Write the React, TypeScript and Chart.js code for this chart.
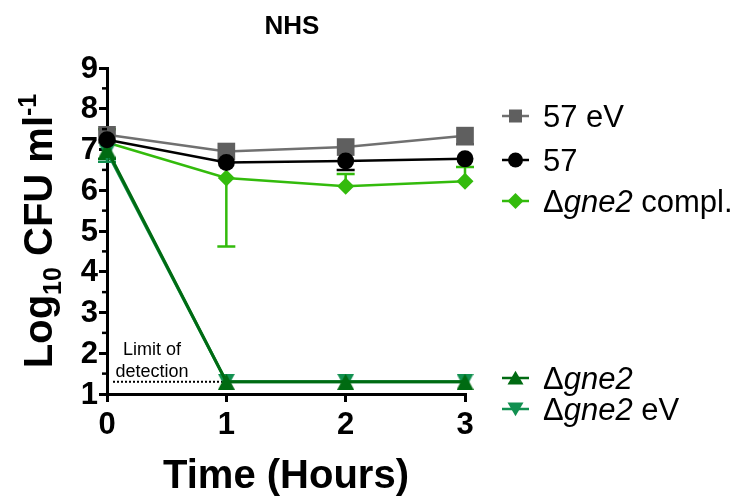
import React, { useEffect, useRef } from 'react';
import { Chart, registerables } from 'chart.js';
Chart.register(...registerables);

// ---- data ----
const timeHours = [0, 1, 2, 3];
const yTickValues = [1, 2, 3, 4, 5, 6, 7, 8, 9];
const xTickValues = [0, 1, 2, 3];
const chartTitle = 'NHS';
const xTitle = 'Time (Hours)';

const s57eV = [7.36, 6.95, 7.06, 7.34];
const s57 = [7.24, 6.68, 6.72, 6.77];
const sCompl = [7.17, 6.3, 6.1, 6.22];
const sGne2 = [7.0, 1.3, 1.3, 1.3];
const sGne2eV = [6.95, 1.3, 1.3, 1.3];

// error bar ends (null = not visible)
const e57eVLow = [null, null, null, 7.13];
const e57eVHigh = [null, null, null, null];
const e57Low = [null, null, 6.5, null];
const e57High = [null, null, null, null];
const eComplLow = [null, 4.62, null, null];
const eComplHigh = [7.5, null, 6.4, 6.57];
const eGne2Low = [6.77, null, null, null];
const eGne2High = [null, null, null, null];
const eGne2eVLow = [6.7, null, null, null];
const eGne2eVHigh = [null, null, null, null];

const limitOfDetection = 1.3;

const C_GRAY = '#5f5f5f';
const C_GRAYLINE = '#707070';
const C_BLACK = '#000000';
const C_GREEN = '#33bb0c';
const C_DKGREEN = '#006b12';
const C_TEAL = '#119050';

const FONT = '"Liberation Sans", Arial, Helvetica, sans-serif';

function triCanvas(color: string, down: boolean, w: number, h: number) {
  const c = document.createElement('canvas');
  c.width = w;
  c.height = h;
  const g = c.getContext('2d')!;
  g.fillStyle = color;
  g.beginPath();
  if (down) {
    g.moveTo(0, 0);
    g.lineTo(w, 0);
    g.lineTo(w / 2, h);
  } else {
    g.moveTo(w / 2, 0);
    g.lineTo(w, h);
    g.lineTo(0, h);
  }
  g.closePath();
  g.fill();
  return c;
}

function drawMarker(ctx: CanvasRenderingContext2D, type: string, x: number, y: number, s: number, color: string) {
  ctx.save();
  ctx.fillStyle = color;
  ctx.beginPath();
  if (type === 'square') {
    ctx.rect(x - s / 2, y - s / 2, s, s);
  } else if (type === 'circle') {
    ctx.arc(x, y, s / 2, 0, Math.PI * 2);
  } else if (type === 'diamond') {
    ctx.moveTo(x, y - s / 2);
    ctx.lineTo(x + s / 2, y);
    ctx.lineTo(x, y + s / 2);
    ctx.lineTo(x - s / 2, y);
    ctx.closePath();
  } else if (type === 'up') {
    ctx.moveTo(x, y - s * 0.45);
    ctx.lineTo(x + s / 2, y + s * 0.4);
    ctx.lineTo(x - s / 2, y + s * 0.4);
    ctx.closePath();
  } else if (type === 'down') {
    ctx.moveTo(x - s / 2, y - s * 0.4);
    ctx.lineTo(x + s / 2, y - s * 0.4);
    ctx.lineTo(x, y + s * 0.45);
    ctx.closePath();
  }
  ctx.fill();
  ctx.restore();
}

type Run = { t: string; italic?: boolean };

function drawRuns(ctx: CanvasRenderingContext2D, runs: Run[], x: number, y: number, size: number) {
  let cx = x;
  for (const r of runs) {
    ctx.font = `${r.italic ? 'italic ' : ''}${size}px ${FONT}`;
    ctx.fillText(r.t, cx, y);
    cx += ctx.measureText(r.t).width;
  }
}

const legendRows = [
  { runs: [{ t: '57 eV' }], color: C_GRAY, line: C_GRAYLINE, sym: 'square', size: 13, y: 116 },
  { runs: [{ t: '57' }], color: C_BLACK, line: C_BLACK, sym: 'circle', size: 15, y: 160 },
  { runs: [{ t: 'Δ' }, { t: 'gne2', italic: true }, { t: ' compl.' }], color: C_GREEN, line: C_GREEN, sym: 'diamond', size: 16, y: 201 },
  { runs: [{ t: 'Δ' }, { t: 'gne2', italic: true }], color: C_DKGREEN, line: C_DKGREEN, sym: 'up', size: 16, y: 378 },
  { runs: [{ t: 'Δ' }, { t: 'gne2', italic: true }, { t: ' eV' }], color: C_TEAL, line: C_TEAL, sym: 'down', size: 16, y: 409 },
];

const errorSets = [
  { lo: e57eVLow, hi: e57eVHigh, v: s57eV, color: C_GRAY },
  { lo: e57Low, hi: e57High, v: s57, color: C_BLACK },
  { lo: eComplLow, hi: eComplHigh, v: sCompl, color: C_GREEN },
  { lo: eGne2Low, hi: eGne2High, v: sGne2, color: C_DKGREEN },
  { lo: eGne2eVLow, hi: eGne2eVHigh, v: sGne2eV, color: C_TEAL },
];

const decorPlugin = {
  id: 'decor',
  beforeDatasetsDraw(chart: any) {
    const ctx = chart.ctx as CanvasRenderingContext2D;
    const xs = chart.scales.x;
    const ys = chart.scales.y;
    // limit of detection dotted line
    ctx.save();
    ctx.strokeStyle = '#000';
    ctx.lineWidth = 2;
    ctx.setLineDash([2, 2]);
    ctx.beginPath();
    const ly = ys.getPixelForValue(limitOfDetection);
    ctx.moveTo(xs.getPixelForValue(0) + 6, ly);
    ctx.lineTo(xs.getPixelForValue(1), ly);
    ctx.stroke();
    ctx.restore();
    // error bars
    ctx.save();
    ctx.lineWidth = 2.5;
    for (const es of errorSets) {
      ctx.strokeStyle = es.color;
      timeHours.forEach((t, i) => {
        const px = xs.getPixelForValue(t);
        const py = ys.getPixelForValue(es.v[i]);
        for (const end of [es.lo[i], es.hi[i]]) {
          if (end === null || end === undefined) continue;
          const ey = ys.getPixelForValue(end as number);
          ctx.beginPath();
          ctx.moveTo(px, py);
          ctx.lineTo(px, ey);
          ctx.moveTo(px - 9, ey);
          ctx.lineTo(px + 9, ey);
          ctx.stroke();
        }
      });
    }
    ctx.restore();
  },
  afterDraw(chart: any) {
    const ctx = chart.ctx as CanvasRenderingContext2D;
    const xs = chart.scales.x;
    const ys = chart.scales.y;
    const area = chart.chartArea;
    ctx.save();
    ctx.fillStyle = '#000';
    // minor ticks on y
    ctx.strokeStyle = '#000';
    ctx.lineWidth = 2.5;
    for (let i = 0; i < yTickValues.length - 1; i++) {
      const v = (yTickValues[i] + yTickValues[i + 1]) / 2;
      const py = ys.getPixelForValue(v);
      ctx.beginPath();
      ctx.moveTo(area.left - 5, py);
      ctx.lineTo(area.left, py);
      ctx.stroke();
    }
    // y tick labels
    ctx.font = `bold 31px ${FONT}`;
    ctx.textAlign = 'right';
    ctx.textBaseline = 'middle';
    for (const v of yTickValues) {
      ctx.fillText(String(v), area.left - 9, ys.getPixelForValue(v) + 1);
    }
    // x tick labels
    ctx.textAlign = 'center';
    ctx.textBaseline = 'alphabetic';
    for (const v of xTickValues) {
      ctx.fillText(String(v), xs.getPixelForValue(v), 434);
    }
    // title
    ctx.font = `bold 26px ${FONT}`;
    ctx.fillText(chartTitle, 292, 34);
    // x title
    ctx.font = `bold 40px ${FONT}`;
    ctx.fillText(xTitle, 286, 488);
    // y title with sub/superscript
    const big = 40, small = 25;
    const parts = [
      { t: 'Log', s: big, dy: 0 },
      { t: '10', s: small, dy: 9 },
      { t: ' CFU ml', s: big, dy: 0 },
      { t: '-1', s: small, dy: -16 },
    ];
    let total = 0;
    for (const p of parts) {
      ctx.font = `bold ${p.s}px ${FONT}`;
      total += ctx.measureText(p.t).width;
    }
    ctx.save();
    ctx.translate(52, 231);
    ctx.rotate(-Math.PI / 2);
    ctx.textAlign = 'left';
    let ux = -total / 2;
    for (const p of parts) {
      ctx.font = `bold ${p.s}px ${FONT}`;
      ctx.fillText(p.t, ux, p.dy);
      ux += ctx.measureText(p.t).width;
    }
    ctx.restore();
    // limit of detection label
    ctx.font = `18px ${FONT}`;
    ctx.textAlign = 'center';
    ctx.fillText('Limit of', 152, 355);
    ctx.fillText('detection', 152, 377);
    // legend
    ctx.textAlign = 'left';
    for (const r of legendRows) {
      ctx.strokeStyle = r.line;
      ctx.lineWidth = 2.5;
      ctx.beginPath();
      ctx.moveTo(502, r.y);
      ctx.lineTo(529, r.y);
      ctx.stroke();
      drawMarker(ctx, r.sym, 515.5, r.y, r.size, r.color);
      ctx.fillStyle = '#000';
      drawRuns(ctx, r.runs, 543, r.y + 11, 31);
    }
    ctx.restore();
  },
};

export default function App() {
  const ref = useRef<HTMLCanvasElement>(null);
  useEffect(() => {
    const upTri = triCanvas(C_DKGREEN, false, 17, 16);
    const downTri = triCanvas(C_TEAL, true, 17, 16);
    const mk = (arr: number[]) => arr.map((v, i) => ({ x: timeHours[i], y: v }));
    const chart = new Chart(ref.current!, {
      type: 'line',
      data: {
        datasets: [
          { label: '57', data: mk(s57), borderColor: C_BLACK, backgroundColor: C_BLACK, borderWidth: 2.5, pointStyle: 'circle', pointRadius: 8.5, pointBorderWidth: 0, clip: false, order: 0 } as any,
          { label: '57 eV', data: mk(s57eV), borderColor: C_GRAYLINE, backgroundColor: C_GRAY, pointBorderColor: C_GRAY, borderWidth: 2.5, pointStyle: 'rect', pointRadius: 12.5, pointBorderWidth: 0, clip: false, order: 1 } as any,
          { label: 'Δgne2', data: mk(sGne2), borderColor: C_DKGREEN, backgroundColor: C_DKGREEN, borderWidth: 3, pointStyle: upTri, clip: false, order: 2 } as any,
          { label: 'Δgne2 eV', data: mk(sGne2eV), borderColor: C_TEAL, backgroundColor: C_TEAL, borderWidth: 3, pointStyle: downTri, clip: false, order: 3 } as any,
          { label: 'Δgne2 compl.', data: mk(sCompl), borderColor: C_GREEN, backgroundColor: C_GREEN, borderWidth: 2.5, pointStyle: 'rectRot', pointRadius: 8.5, pointBorderWidth: 0, clip: false, order: 4 } as any,
        ],
      },
      options: {
        animation: false,
        responsive: false,
        maintainAspectRatio: false,
        layout: { padding: { left: 0, top: 68, right: 278, bottom: 0 } },
        plugins: { legend: { display: false }, tooltip: { enabled: false }, title: { display: false } },
        elements: { line: { tension: 0 } },
        scales: {
          x: {
            type: 'linear',
            min: 0,
            max: 3,
            ticks: { display: false, stepSize: 1 },
            grid: { drawOnChartArea: false, drawTicks: true, tickLength: 8, tickWidth: 3, tickColor: '#000', lineWidth: 3 },
            border: { display: true, color: '#000', width: 3 },
            afterFit: (s: any) => { s.height = 103; },
          },
          y: {
            type: 'linear',
            min: 1,
            max: 9,
            ticks: { display: false, stepSize: 1 },
            grid: { drawOnChartArea: false, drawTicks: true, tickLength: 8, tickWidth: 3, tickColor: '#000', lineWidth: 3 },
            border: { display: true, color: '#000', width: 3 },
            afterFit: (s: any) => { s.width = 107; },
          },
        },
      } as any,
      plugins: [decorPlugin],
    });
    return () => chart.destroy();
  }, []);
  return (
    <div style={{ position: 'absolute', left: 0, top: 0, width: 743, height: 497 }}>
      <canvas ref={ref} width={743} height={497} style={{ display: 'block', width: 743, height: 497 }} />
    </div>
  );
}
